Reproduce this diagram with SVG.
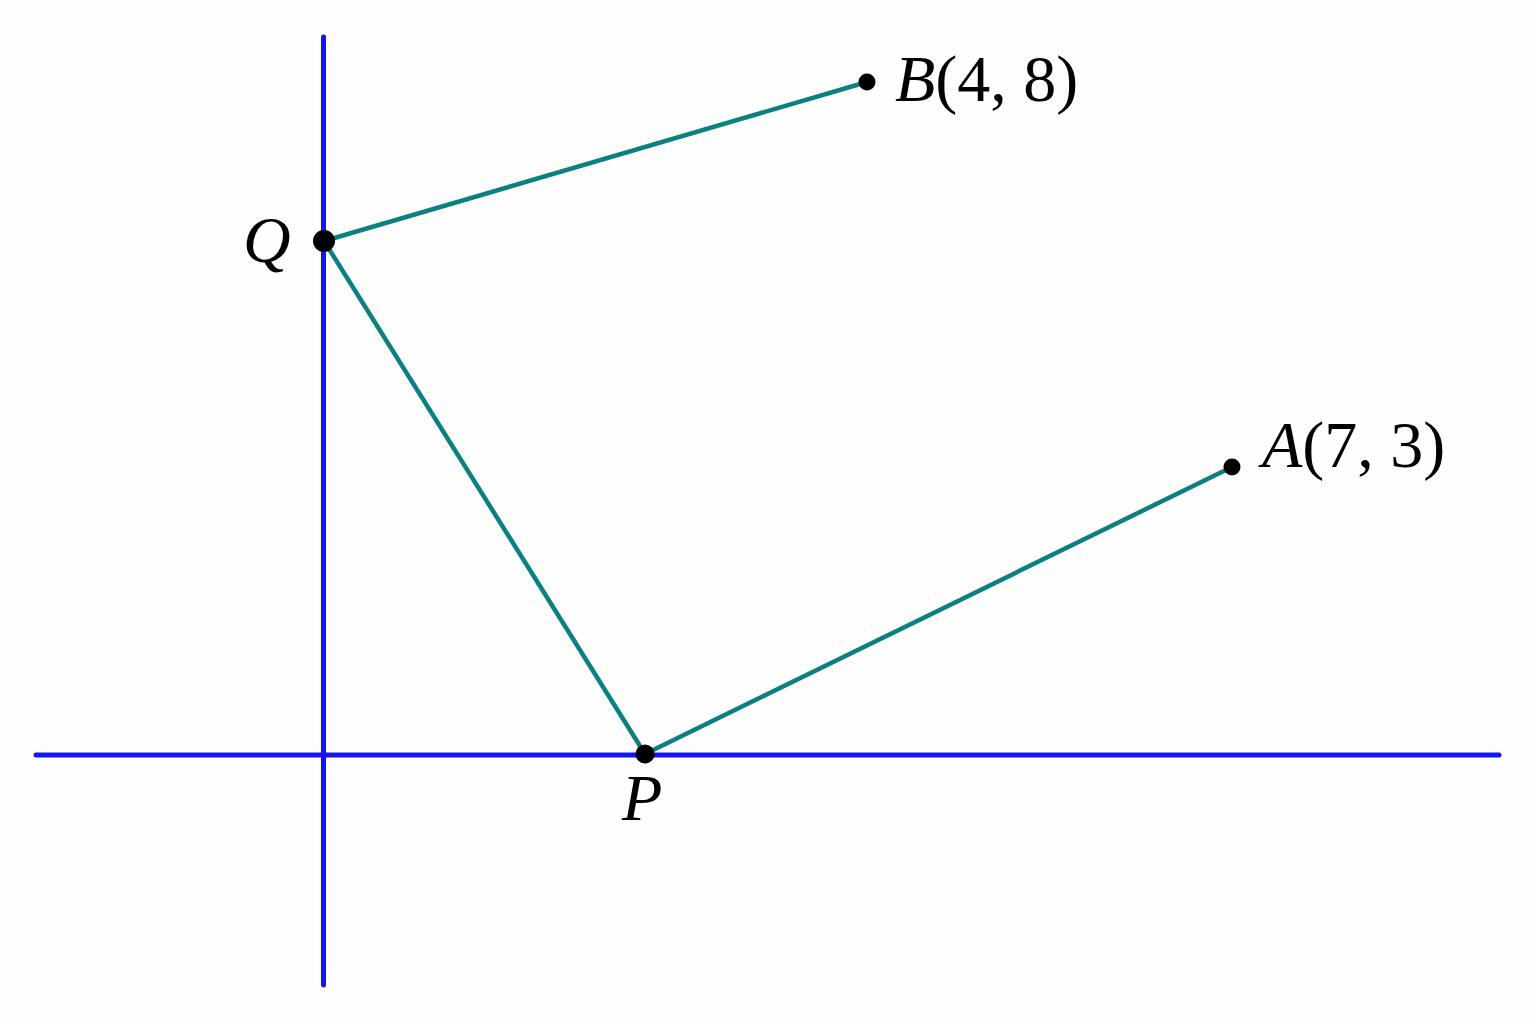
<svg xmlns="http://www.w3.org/2000/svg" width="1536" height="1024" viewBox="0 0 1536 1024">
<style>
.axis{stroke:#1414f0;stroke-width:5;stroke-linecap:round;fill:none}
.seg{stroke:#0b8080;stroke-width:4.5;stroke-linecap:round;fill:none}
.dot{fill:#000}
.lbl{font-family:"Liberation Serif","Times New Roman",serif;font-size:66px;fill:#000}
.it{font-style:italic}
</style>
<rect width="1536" height="1024" fill="#fdfdfd"/>
<g id="axes">
<line class="axis" x1="36" y1="755" x2="1499" y2="755"/>
<line class="axis" x1="323.5" y1="37" x2="323.5" y2="985"/>
</g>
<g id="connectors">
<line class="seg" x1="324" y1="241" x2="867" y2="82"/>
<line class="seg" x1="324" y1="241" x2="645" y2="754"/>
<line class="seg" x1="645" y1="754" x2="1232" y2="467"/>
</g>
<g id="node-Q">
<circle class="dot" cx="324" cy="241" r="11"/>
<text class="lbl it" x="243" y="262">Q</text>
</g>
<g id="node-B">
<circle class="dot" cx="867" cy="82" r="8.5"/>
<text class="lbl" x="895" y="101"><tspan class="it">B</tspan>(4, 8)</text>
</g>
<g id="node-A">
<circle class="dot" cx="1232" cy="467" r="8.5"/>
<text class="lbl" x="1262" y="467"><tspan class="it">A</tspan>(7, 3)</text>
</g>
<g id="node-P">
<circle class="dot" cx="645" cy="754" r="9.5"/>
<text class="lbl it" x="622" y="820">P</text>
</g>
</svg>
